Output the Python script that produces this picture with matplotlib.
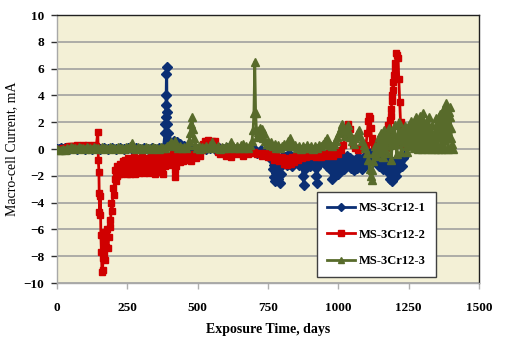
import matplotlib
matplotlib.use("Agg")
import matplotlib.pyplot as plt

# Exposure time (days) and macro-cell current (mA) for each specimen
days_1 = [0, 7, 14, 21, 28, 42, 56, 70, 84, 98, 112, 126, 140, 154, 168, 182, 196, 210, 224, 238,
          252, 266, 280, 294, 308, 322, 336, 350, 364, 378,
          384, 385, 386, 387, 388, 389, 390, 391, 392, 393, 395, 398, 402, 406, 410, 415, 420, 425,
          430, 436, 442, 450, 460, 470, 480, 490, 500, 515, 530, 545, 560, 575, 590, 605, 620, 635,
          650, 665, 675, 690, 700, 712, 725, 740, 752,
          760, 764, 767, 770, 773, 776, 779, 782, 785, 788, 791, 794, 797, 800, 804, 808, 812, 816,
          820, 824, 828, 832, 836, 840, 845, 850, 855, 860, 865, 870, 874, 877, 880, 884, 888, 892,
          896, 900, 905, 910, 915, 919, 922, 925, 928, 932, 936, 940, 945, 950, 955, 960, 965, 970,
          974, 977, 980, 984, 988, 992, 996, 1000, 1004, 1008, 1012, 1016, 1020, 1024, 1028, 1032,
          1036, 1040, 1045, 1050, 1055, 1060, 1065, 1070, 1075, 1080, 1085, 1090, 1095, 1100, 1105,
          1110, 1115, 1120, 1135, 1140, 1145, 1150, 1155, 1160, 1165, 1170, 1175, 1180, 1184, 1187,
          1190, 1193, 1196, 1200, 1204, 1208, 1212, 1216, 1220, 1225, 1230, 1235]
current_1 = [0.0, 0.0, 0.05, 0.0, 0.1, 0.0, 0.05, 0.0, 0.1, 0.0, 0.05, 0.0, 0.1, 0.0, 0.05, 0.0, 0.1, 0.0, 0.05, 0.0,
             0.1, 0.0, 0.05, 0.0, 0.1, 0.0, 0.05, 0.0, 0.1, 0.05,
             1.2, 1.9, 2.4, 3.3, 4.0, 5.6, 6.1, 2.8, 1.9, 1.2, 0.6, 0.3, 0.5, 0.2, 0.4, 0.6, 0.3, 0.5,
             0.2, 0.4, 0.1, 0.2, 0.0, 0.1, 0.0, 0.1, 0.0, 0.1, 0.0, 0.1, 0.0, 0.1, 0.0, 0.1, 0.0, -0.1,
             0.0, -0.2, 0.0, -0.1, 0.0, -0.3, -0.1, -0.2, -0.1,
             -0.4, -0.8, -1.5, -2.1, -1.2, -2.4, -1.8, -0.9, -2.2, -1.4, -2.5, -1.0, -1.9, -0.7, -0.5, -1.0, -0.6, -1.2,
             -0.8, -0.4, -1.1, -0.6, -1.3, -0.9, -0.5, -1.0, -0.6, -1.2, -0.7, -1.0, -2.0, -2.7, -1.5, -0.8, -0.5, -1.1,
             -0.7, -1.3, -0.6, -1.0, -0.5, -1.4, -2.0, -2.5, -1.2, -0.7, -0.4, -0.9, -0.5, -1.0, -0.6, -1.3, -0.8, -1.5,
             -1.0, -2.2, -1.4, -0.8, -1.2, -0.6, -1.4, -1.9, -1.0, -0.5, -1.2, -0.6, -1.5, -0.9, -1.3, -0.5,
             -1.1, -0.7, -1.4, -0.8, -1.6, -1.0, -1.4, -0.6, -1.2, -0.8, -1.5, -1.0, -0.5, -1.1, -0.7,
             -0.3, -0.6, -0.2, -0.3, -0.8, -1.3, -0.6, -1.0, -1.5, -0.9, -0.5, -1.2, -1.8, -2.2, -1.4,
             -2.4, -1.7, -1.0, -1.6, -2.0, -1.2, -0.8, -1.4, -0.9, -1.3, -0.7, -0.5]

days_2 = [0, 7, 14, 21, 28, 35, 42, 49, 56, 63, 70, 77, 84, 91, 98, 105, 112, 119, 126, 133, 140,
          145, 147, 149, 150, 151, 152, 154, 156, 158, 160, 162, 164, 166, 168, 170, 172, 175, 178,
          181, 184, 187, 190, 193, 196, 199, 202,
          205, 207, 209, 211, 213, 215, 218, 220, 223, 225, 228, 230, 233, 235, 238, 240, 243, 245,
          248, 250, 253, 255, 258, 260, 263, 265, 268, 270, 273, 275, 278, 280, 283, 285, 288, 290,
          293, 295, 298, 300, 303, 305, 308, 310, 313, 315, 318, 320, 323, 325, 328, 330, 333, 335,
          338, 340, 343, 345, 348, 350, 353, 355, 358, 360, 363, 365, 368, 370, 373, 375, 378, 380,
          383, 385, 388, 390, 393, 395, 398, 400, 403, 405, 408, 410, 413, 415, 418, 420, 422, 424,
          430, 436, 442, 448, 455, 462, 470, 478, 486, 494, 502, 510, 516, 520, 525, 530, 535, 540,
          545, 550, 555, 560, 566, 572, 580, 590, 600, 610, 620, 630, 640, 650, 660, 670, 680, 690,
          700, 710, 720, 730, 740, 750, 760, 770, 780, 790, 800, 806, 812, 818, 824, 830, 836, 842,
          848, 855, 862, 870, 878, 886, 894, 902, 910, 920, 930, 940, 950, 960, 970, 980, 990, 1000,
          1010, 1018, 1024, 1030, 1035, 1040, 1045, 1052, 1060, 1070, 1080, 1090, 1098, 1103, 1106,
          1109, 1112, 1115, 1118, 1122, 1128, 1135, 1142, 1150, 1158, 1165, 1170, 1175, 1178, 1181,
          1184, 1186, 1188, 1190, 1192, 1194, 1196, 1198, 1200, 1203, 1206, 1209, 1212, 1215, 1218,
          1221, 1224, 1228]
current_2 = [0.0, -0.1, 0.0, 0.05, 0.1, 0.15, 0.2, 0.2, 0.25, 0.2, 0.3, 0.25, 0.2, 0.3, 0.25, 0.2, 0.3, 0.25, 0.2, 0.3, 0.25,
             1.3, -0.8, -1.7, -3.3, -4.7, -4.9, -3.5, -6.4, -7.7, -9.2, -9.0, -8.1, -6.8, -7.8, -6.2, -8.3, -7.3, -6.0,
             -7.4, -6.6, -5.3, -5.8, -4.0, -4.6, -2.9, -3.4,
             -2.2, -1.6, -2.4, -1.8, -1.3, -2.0, -1.5, -1.9, -1.1, -1.6, -1.9, -1.3, -0.9, -1.7, -1.2, -1.8, -0.8, -1.4,
             -1.9, -1.2, -0.7, -1.6, -1.1, -1.9, -0.8, -1.4, -1.8, -1.0, -0.6, -1.5, -1.9, -1.2, -0.8, -1.7, -1.1, -1.8,
             -0.7, -1.3, -1.7, -1.0, -0.6, -1.5, -1.8, -1.1, -0.7, -1.6, -1.2, -1.7, -0.8, -1.4, -1.8, -1.0, -0.6, -1.3,
             -0.9, -1.5, -0.7, -1.2, -1.9, -1.1, -0.6, -1.2, -0.8, -1.4, -0.6, -1.0, -1.7, -0.9, -0.5, -1.6, -1.9, -1.0,
             -0.6, -1.3, -0.8, -1.1, -0.5, -1.0, -0.7, -1.2, -0.5, -0.9, -0.6, -1.0, -0.4, -1.1, -1.6, -2.1, -1.3, -0.8,
             -0.5, -1.0, -0.6, -0.9, -0.4, -0.8, -0.5, -0.9, -0.4, -0.7, -0.3, -0.5, -0.1, 0.4, 0.6, 0.3, 0.7, 0.5,
             0.2, 0.6, 0.4, 0.6, 0.2, -0.2, -0.4, -0.2, -0.5, -0.3, -0.6, -0.2, -0.4, -0.3, -0.5, -0.2, -0.4, -0.3,
             -0.2, -0.4, -0.3, -0.5, -0.3, -0.6, -0.4, -0.8, -0.5, -0.9, -0.6, -1.1, -0.7, -1.2, -0.8, -1.1, -0.6, -1.0,
             -0.5, -0.8, -0.4, -0.7, -0.4, -0.6, -0.3, -0.5, -0.3, -0.6, -0.4, -0.6, -0.3, -0.5, -0.3, -0.5, -0.2, -0.4,
             -0.1, 0.3, 0.9, 1.4, 1.9, 1.5, 0.8, 0.4, 0.1, -0.1, 0.1, 0.0, 0.3, 1.2, 2.1,
             2.5, 2.3, 1.6, 0.8, 0.5, 0.3, 0.1, 0.4, 0.2, 0.5, 0.3, 0.1, 0.7, 1.8, 1.2,
             2.2, 3.0, 2.5, 4.0, 3.6, 5.0, 4.4, 5.5, 6.0, 6.4, 7.2, 7.0, 6.8, 5.2, 3.5,
             2.0, 1.0, 0.4]

days_3 = [0, 7, 14, 21, 28, 35, 42, 49, 56, 63, 70, 77, 84, 91, 98, 105, 112, 119, 126, 133, 140,
          147, 154, 161, 168, 175, 182, 189, 196, 203, 210, 217, 224, 231, 238, 245, 252, 259, 266,
          273, 280, 287, 294, 301, 308, 315, 322, 329, 336, 343, 350, 357, 364, 371, 378, 385, 392,
          399, 406, 412, 418, 424, 430, 437, 444, 451, 458, 464, 470, 474, 477, 480, 483, 486, 490,
          496, 503, 510, 517, 524, 531, 538, 545, 552, 558, 565, 572, 579, 586, 593, 600, 607, 614,
          620, 626, 633, 640, 647, 654, 660, 666, 673, 680, 687, 693, 697, 700, 703, 706, 709, 712,
          716, 720, 724, 728, 732, 736, 740, 745, 750, 756, 762, 768, 774, 780, 787, 794, 801, 808,
          815, 822, 828, 834, 840, 847, 854, 861, 868, 875, 882, 889, 896, 903, 910, 917, 924, 931,
          938, 945, 952, 958, 964, 970, 977, 984, 990, 996, 1002, 1008, 1013, 1018, 1023, 1028, 1033,
          1038, 1043, 1048, 1054, 1060, 1066, 1072, 1078, 1084, 1090, 1096, 1102, 1107, 1111, 1115,
          1118, 1121, 1124, 1128, 1132, 1136, 1140, 1144, 1148, 1152, 1156, 1160, 1164, 1168, 1172,
          1176, 1180, 1184, 1188, 1192, 1196, 1200, 1204, 1208, 1212, 1216, 1220, 1224, 1228, 1232,
          1236,
          1240, 1242, 1244, 1246, 1248, 1250, 1252, 1254, 1256, 1258, 1260, 1262, 1264, 1266, 1268,
          1270, 1272, 1274, 1276, 1278, 1280, 1282, 1284, 1286, 1288, 1290, 1292, 1294, 1296, 1298,
          1300, 1302, 1304, 1306, 1308, 1310, 1312, 1314, 1316, 1318, 1320, 1322, 1324, 1326, 1328,
          1330, 1332, 1334, 1336, 1338, 1340, 1342, 1344, 1346, 1348, 1350, 1352, 1354, 1356, 1358,
          1360, 1362, 1364, 1366, 1368, 1370, 1372, 1374, 1376, 1378, 1380, 1382, 1384, 1386, 1388,
          1390, 1392, 1394, 1396, 1398, 1400, 1402, 1404, 1406]
current_3 = [0.0, -0.1, -0.1, 0.0, -0.1, 0.1, 0.0, 0.15, 0.05, 0.1, 0.0, 0.15, 0.05, 0.1, 0.0, 0.15, 0.05, 0.1, 0.0, 0.15, 0.05,
             0.1, 0.0, 0.15, 0.05, 0.1, 0.0, 0.15, 0.05, 0.1, 0.0, 0.15, 0.05, 0.1, 0.0, 0.15, 0.05, 0.2, 0.45,
             0.1, 0.0, 0.15, 0.05, 0.1, 0.0, 0.15, 0.05, 0.1, 0.0, 0.15, 0.05, 0.1, 0.0, 0.15, 0.05, 0.1, 0.2,
             0.3, 0.5, 0.3, 0.6, 0.2, 0.1, 0.2, 0.05, 0.15, 0.1, 0.3, 0.6, 1.2, 1.9, 2.4, 1.5, 0.8, 0.3,
             0.1, 0.2, 0.0, 0.15, 0.05, 0.2, 0.1, 0.3, 0.5, 0.2, 0.1, 0.2, 0.0, 0.15, 0.1, 0.2, 0.05, 0.3,
             0.5, 0.2, 0.1, 0.2, 0.05, 0.3, 0.4, 0.1, 0.2, 0.05, 0.3, 0.6, 1.4, 2.7, 6.5, 2.7, 1.4, 0.9,
             1.3, 1.6, 1.0, 1.5, 0.8, 1.2, 0.6, 0.4, 0.6, 0.3, 0.5, 0.2, 0.4, 0.1, 0.3, 0.1, 0.2, 0.4,
             0.2, 0.6, 0.8, 0.4, 0.2, 0.3, 0.1, 0.2, 0.0, 0.2, 0.1, 0.3, 0.1, 0.2, 0.0, 0.2, 0.1, 0.3,
             0.2, 0.4, 0.6, 0.8, 0.5, 0.3, 0.2, 0.4, 0.6, 0.9, 1.2, 1.6, 1.9, 1.4, 1.0, 1.5, 1.8,
             1.3, 0.9, 0.6, 0.4, 0.8, 1.1, 1.4, 1.0, 0.6, 0.3, 0.1, -0.3, -0.8, -1.5, -2.0,
             -2.3, -1.6, -0.9, -0.3, 0.2, -0.5, 0.4, 0.9, -0.2, 1.2, 0.5, -0.6, 1.4, 0.8, -0.3,
             1.1, 1.6, 0.3, -0.8, 0.6, 1.3, 1.8, 0.4, -0.4, 1.0, 2.0, 0.7, -0.2, 1.4, 0.5,
             1.7,
             0.2, 1.1, -0.2, 0.6, 0.9, 1.4, 1.8, 0.9, 0.3, 1.2, 2.1, 1.5, 1.0, 0.4, 0.1,
             0.9, 1.6, 2.0, 2.4, 1.3, 0.6, 0.2, 0.0, 1.0, 1.9, 2.2, 2.5, 1.6, 0.8, 0.0,
             1.8, 2.7, 1.5, 0.7, 0.2, 2.0, 1.3, 0.9, 0.0, 1.1, 1.7, 2.4, 1.4, 0.5, 0.0,
             1.2, 1.8, 1.1, 0.4, 0.1, 0.6, 0.0, 0.9, 1.5, 2.3, 1.3, 0.4, 0.0, 1.1, 2.0,
             2.6, 1.8, 1.0, 0.0, 1.3, 2.2, 2.9, 1.6, 0.7, 0.0, 1.5, 2.5, 3.4, 2.2, 1.2,
             0.0, 1.6, 2.8, 3.1, 2.4, 1.6, 0.8, 0.4, 0.0]

labels = ["MS-3Cr12-1", "MS-3Cr12-2", "MS-3Cr12-3"]
x_ticks = [0, 250, 500, 750, 1000, 1250, 1500]
y_ticks = [-10, -8, -6, -4, -2, 0, 2, 4, 6, 8, 10]

plt.rcParams["font.family"] = ["Liberation Serif", "DejaVu Serif"]

fig = plt.figure(figsize=(5.07, 3.46), dpi=100)
ax = fig.add_axes([0.1124, 0.182, 0.8324, 0.7746])
ax.set_facecolor("#F3F0D6")

ax.set_xlim(0, 1500)
ax.set_ylim(-10, 10)
ax.set_xticks(x_ticks)
ax.set_yticks(y_ticks)
ax.yaxis.grid(True, color="#9A9A9A", linewidth=1.1)
ax.set_axisbelow(True)

ax.plot(days_1, current_1, color="#0B2F74", marker="D", markersize=4.6,
        linewidth=2.0, label=labels[0], zorder=3)
ax.plot(days_2, current_2, color="#D00000", marker="s", markersize=4.8,
        linewidth=2.0, label=labels[1], zorder=4)
ax.plot(days_3, current_3, color="#586B2B", marker="^", markersize=5.6,
        linewidth=2.0, label=labels[2], zorder=5)

for side in ("top", "right"):
    ax.spines[side].set_color("#202020")
    ax.spines[side].set_linewidth(1.0)
for side in ("left", "bottom"):
    ax.spines[side].set_color("#A8A8A8")
    ax.spines[side].set_linewidth(1.0)

ax.tick_params(axis="y", direction="out", length=4, width=1, color="#303030",
               pad=5, labelsize=9.5)
ax.tick_params(axis="x", direction="out", length=4, width=1, color="#B0B0B0",
               pad=10, labelsize=9.5)
for lbl in ax.get_xticklabels() + ax.get_yticklabels():
    lbl.set_fontweight("bold")

ax.set_xlabel("Exposure Time, days", fontsize=10, fontweight="bold", labelpad=6)
ax.set_ylabel("Macro-cell Current, mA", fontsize=10, labelpad=4)

leg = ax.legend(loc="lower right", bbox_to_anchor=(0.898, 0.022), borderaxespad=0,
                frameon=True, fancybox=False, handlelength=2.3, labelspacing=1.15,
                borderpad=0.8, handletextpad=0.3, markerscale=0.85,
                prop={"size": 9, "weight": "bold"})
leg.get_frame().set_edgecolor("#404040")
leg.get_frame().set_linewidth(1.0)
leg.get_frame().set_facecolor("white")
leg.get_frame().set_alpha(1.0)

fig.savefig("out.png", dpi=100)
